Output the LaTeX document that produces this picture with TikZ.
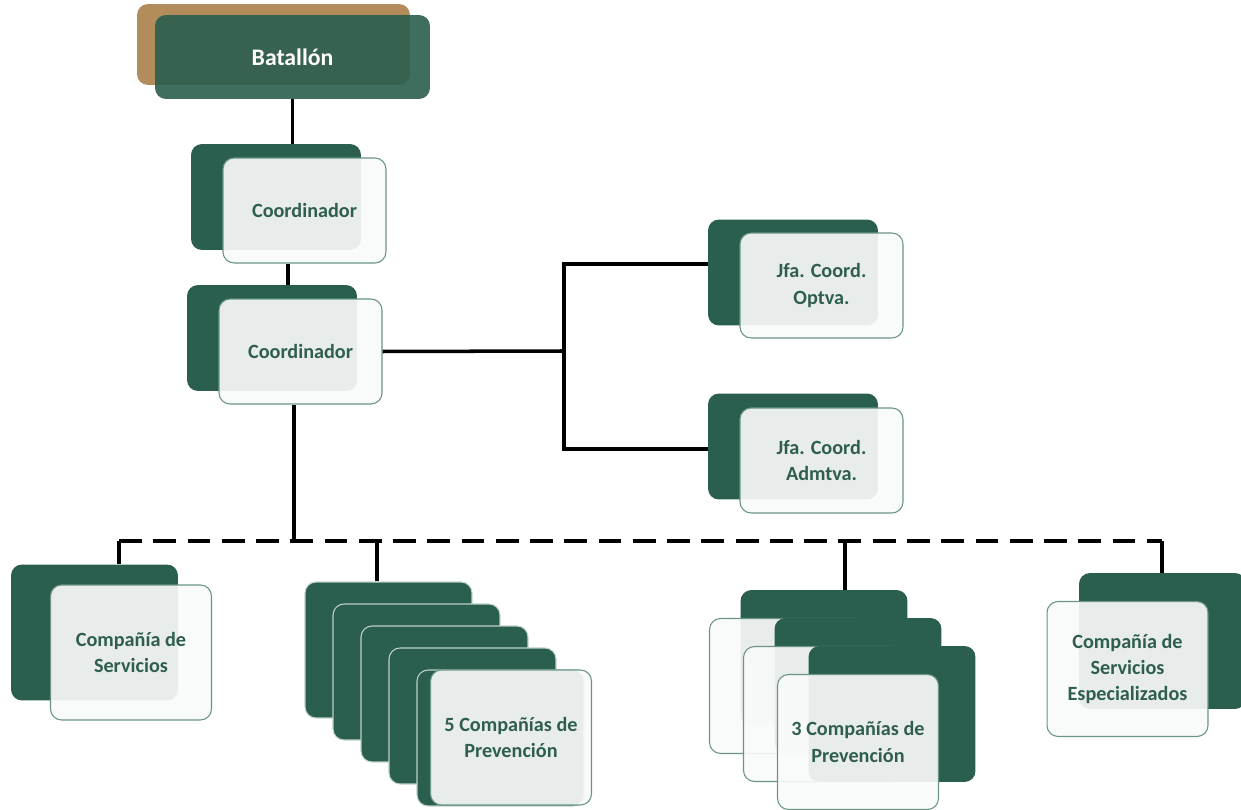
\documentclass[tikz,border=0pt]{standalone}
\usepackage{fontspec}
\setmainfont{Carlito}
\usepackage{tikz}
\definecolor{boxgreen}{HTML}{2A5E4E}
\definecolor{boxtan}{HTML}{B28C5A}
\definecolor{edgegreen}{HTML}{6A9484}
\definecolor{textgreen}{HTML}{2F5E4E}

\begin{document}
\begin{tikzpicture}[x=0.02cm,y=-0.02cm,
  darkbox/.style={fill=boxgreen, rounded corners=0.22cm, inner sep=0pt, minimum width=3.4cm, minimum height=2.12cm},
  lightbox/.style={fill=white!97!boxgreen, fill opacity=0.92, text opacity=1, draw=edgegreen, line width=0.6pt, rounded corners=0.22cm, inner sep=0pt, minimum width=3.26cm, minimum height=2.1cm, text=textgreen, align=center, font=\bfseries\fontsize{11.5}{15}\selectfont},
  tallback/.style={minimum width=3.34cm, minimum height=2.72cm},
  tallfront/.style={minimum width=3.22cm, minimum height=2.7cm},
  stackbox/.style={darkbox, tallback, draw=white!70!boxgreen, line width=0.6pt},
  link/.style={line width=2pt},
  buslink/.style={line width=2.2pt, dash pattern=on 13pt off 6.5pt}]
\useasboundingbox (0,0) rectangle (1241,810);

% batallon
\node[darkbox, fill=boxtan, minimum width=5.46cm, minimum height=1.62cm] (battan) at (273.5,44.5) {};
\node[darkbox, fill opacity=0.9, text opacity=1, minimum width=5.5cm, minimum height=1.68cm, text=white, font=\bfseries\fontsize{13.5}{16}\selectfont] (batf) at (292.5,57) {Batallón};

% coordinadores
\node[darkbox] (co1b) at (276,197) {};
\node[lightbox] (co1f) at (304.5,210.5) {Coordinador};
\node[darkbox] (co2b) at (272,338) {};
\node[lightbox] (co2f) at (300.5,351.5) {Coordinador};

% jefaturas
\node[darkbox] (opb) at (793,272.5) {};
\node[lightbox] (opf) at (821.5,285.5) {Jfa. Coord.\\Optva.};
\node[darkbox] (adb) at (793,446.5) {};
\node[lightbox] (adf) at (821.5,460.5) {Jfa. Coord.\\Admtva.};

% companias
\node[darkbox, tallback] (srvb) at (94.5,632.5) {};
\node[lightbox, tallfront] (srvf) at (131,652.5) {Compañía de\\Servicios};

\node[stackbox] (pv1) at (388.5,650) {}; % 5 companias
\node[stackbox] (pv2) at (416.5,672) {};
\node[stackbox] (pv3) at (444.5,694) {};
\node[stackbox] (pv4) at (472.5,716) {};
\node[stackbox] (pv5) at (500.5,738) {};
\node[lightbox, tallfront] (pvf) at (511,737.5) {5 Compañías de\\Prevención};

\node[darkbox, tallback] (tp1b) at (824,658) {}; % 3 companias
\node[lightbox, tallfront] (tp1f) at (790,686) {};
\node[darkbox, tallback] (tp2b) at (858,686) {};
\node[lightbox, tallfront] (tp2f) at (824,714) {};
\node[darkbox, tallback] (tp3b) at (892,714) {};
\node[lightbox, tallfront] (tp3f) at (858,742) {3 Compañías de\\Prevención};

\node[darkbox, tallback] (espb) at (1162.5,641) {};
\node[lightbox, tallfront] (espf) at (1127.5,669) {Compañía de\\Servicios\\Especializados};

% lineas
\coordinate (c12) at (288,0);
\coordinate (jr) at (564,351);
\coordinate (j1) at (294,541);
\coordinate (bl) at (119,541);
\coordinate (br) at (1162,541);
\coordinate (d2) at (377,541);
\coordinate (d3) at (845,541);
\draw[link] (batf.south) -- (batf.south |- co1b.north);
\draw[link] (co1f.south -| c12) -- (co2b.north -| c12);
\draw[link] (co2f.east) -- (jr);
\draw[link] ([yshift=0.17cm]opb.west) -| (jr) |- ([yshift=-0.05cm]adb.west);
\draw[link] (co2f.south -| j1) -- (j1);
\draw[buslink] (bl) -- (br);
\draw[link] (bl) -- (bl |- srvb.north);
\draw[link] (d2) -- (d2 |- pv1.north);
\draw[link] (d3) -- (d3 |- tp1b.north);
\draw[link] (br) -- (br |- espb.north);
\end{tikzpicture}
\end{document}
